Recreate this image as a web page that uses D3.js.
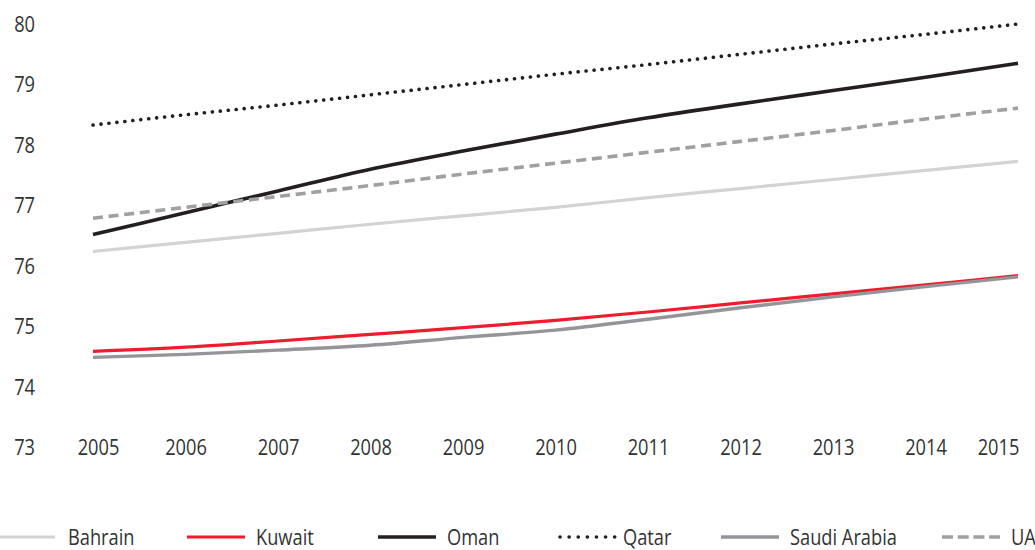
<!DOCTYPE html>
<html>
<head>
<meta charset="utf-8">
<script src="https://cdn.jsdelivr.net/npm/d3@7"></script>
<style>
  html, body { margin: 0; padding: 0; background: #fff; }
  svg { display: block; }
  text { font-family: "Open Sans", "Noto Sans", sans-serif; font-weight: 400; fill: #333; }
</style>
</head>
<body>
<svg id="chart" width="1035" height="550"></svg>
<script>
// ---- data ----
const years = [2005, 2006, 2007, 2008, 2009, 2010, 2011, 2012, 2013, 2014, 2015];
const yTicks = [73, 74, 75, 76, 77, 78, 79, 80];
const seriesNames = ["Bahrain", "Kuwait", "Oman", "Qatar", "Saudi Arabia", "UAE"];
const bahrain = [76.24, 76.39, 76.54, 76.69, 76.83, 76.97, 77.13, 77.28, 77.43, 77.58, 77.73];
const kuwait  = [74.59, 74.66, 74.76, 74.87, 74.98, 75.10, 75.24, 75.39, 75.54, 75.69, 75.84];
const oman    = [76.52, 76.88, 77.24, 77.60, 77.90, 78.18, 78.45, 78.68, 78.90, 79.12, 79.35];
const qatar   = [78.33, 78.50, 78.66, 78.83, 79.00, 79.17, 79.33, 79.50, 79.67, 79.83, 80.00];
const saudi   = [74.49, 74.54, 74.61, 74.69, 74.82, 74.94, 75.12, 75.31, 75.49, 75.66, 75.82];
const uae     = [76.79, 76.97, 77.15, 77.33, 77.52, 77.70, 77.88, 78.06, 78.24, 78.43, 78.61];

// ---- styles ----
const styles = {
  "Bahrain":      { color: "#d3d3d3", width: 3.2, dash: null, cap: "butt" },
  "Kuwait":       { color: "#ed1c2e", width: 3.2, dash: null, cap: "butt" },
  "Oman":         { color: "#231f20", width: 3.6, dash: null, cap: "butt" },
  "Qatar":        { color: "#231f20", width: 3.6, dash: "0.1,7.9", cap: "round" },
  "Saudi Arabia": { color: "#939598", width: 3.4, dash: null, cap: "butt" },
  "UAE":          { color: "#a0a0a3", width: 3.6, dash: "10,5.7", cap: "butt" }
};
const seriesValues = [bahrain, kuwait, oman, qatar, saudi, uae];
const series = seriesNames.map((n, i) => ({ name: n, values: seriesValues[i] }));

const FONT = 22, SX = 0.83;
const FAMILY = '"Open Sans", "Noto Sans", sans-serif';
const svg = d3.select("#chart");
const x = d3.scalePoint().domain(years).range([93, 1018]);
const y = d3.scaleLinear().domain([73, 80]).range([447.5, 24]);

// y axis
const yAxis = svg.append("g").attr("transform", "translate(35,0)")
  .call(d3.axisLeft(y).tickValues(yTicks).tickSize(0).tickPadding(0).tickFormat(d3.format("d")));
yAxis.select(".domain").remove();
yAxis.selectAll("text").attr("font-size", FONT).attr("fill", "#333")
  .attr("x", 0).attr("transform", "scale(" + SX + ",1)")
  .style("font-family", FAMILY).style("font-weight", 400);

// x axis
const xAxis = svg.append("g").attr("transform", "translate(0," + y(73) + ")")
  .call(d3.axisBottom(x).tickSize(0).tickPadding(0).tickFormat(d3.format("d")));
xAxis.select(".domain").remove();
xAxis.selectAll("text").attr("font-size", FONT).attr("fill", "#333").attr("y", 0).attr("dy", "0.36em")
  .attr("transform", "scale(" + SX + ",1)")
  .style("font-family", FAMILY).style("font-weight", 400);
xAxis.selectAll(".tick").filter((d, i) => i === 0).select("text").attr("x", 5 / SX);
xAxis.selectAll(".tick").filter((d, i, n) => i === n.length - 1).select("text")
  .attr("x", -20 / SX);

// lines
const line = d3.line().x((d, i) => x(years[i])).y(d => y(d)).curve(d3.curveMonotoneX);
svg.append("g").selectAll("path").data(series).join("path")
  .attr("d", d => line(d.values))
  .attr("fill", "none")
  .attr("stroke", d => styles[d.name].color)
  .attr("stroke-width", d => styles[d.name].width)
  .attr("stroke-dasharray", d => styles[d.name].dash)
  .attr("stroke-linecap", d => styles[d.name].cap);

// legend
const legendX = [-3, 187, 378, 558, 721, 942];
const legendY = 537;
const lg = svg.append("g").selectAll("g").data(series).join("g")
  .attr("transform", (d, i) => "translate(" + legendX[i] + "," + legendY + ")");
lg.append("line")
  .attr("x1", d => d.name === "Qatar" ? 2 : 0).attr("x2", 58)
  .attr("y1", 0).attr("y2", 0)
  .attr("stroke", d => styles[d.name].color)
  .attr("stroke-width", d => styles[d.name].width)
  .attr("stroke-dasharray", d => d.name === "Qatar" ? "0.1,9" : (d.name === "UAE" ? "11,4.7" : null))
  .attr("stroke-linecap", d => styles[d.name].cap);
lg.append("text")
  .attr("x", d => (d.name === "Qatar" ? 65 : (d.name === "Bahrain" ? 71 : 69)) / SX)
  .attr("y", 0).attr("dy", "0.36em")
  .attr("transform", "scale(" + SX + ",1)")
  .attr("font-size", FONT)
  .text(d => d.name);
</script>
</body>
</html>
